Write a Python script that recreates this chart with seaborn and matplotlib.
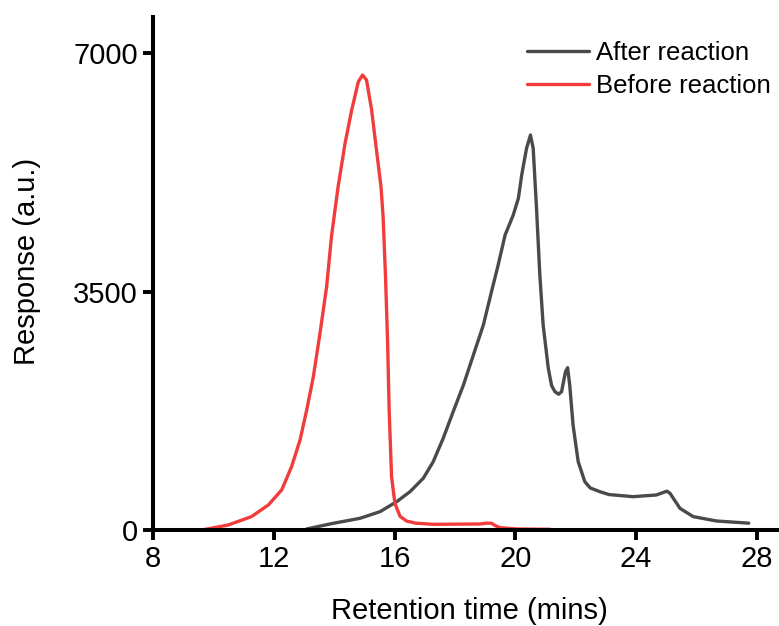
import numpy as np
import pandas as pd
import matplotlib
matplotlib.use("Agg")
import matplotlib.pyplot as plt
import seaborn as sns

# Chromatogram traces (retention time in minutes, detector response in a.u.)
before_time = [9.62, 10.49, 11.26, 11.82, 12.26, 12.59, 12.87, 13.09, 13.31, 13.53,
               13.75, 13.91, 14.13, 14.36, 14.58, 14.80, 14.94, 15.07, 15.24, 15.40,
               15.55, 15.62, 15.70, 15.77, 15.82, 15.90, 16.01, 16.18, 16.40, 16.70,
               17.28, 18.83, 19.05, 19.21, 19.35, 19.49, 20.04, 21.15]
before_resp = [0, 73, 196, 367, 587, 930, 1322, 1762, 2251, 2888,
               3573, 4307, 5041, 5678, 6167, 6583, 6681, 6608, 6167, 5580,
               5041, 4601, 3720, 2741, 1762, 783, 392, 200, 130, 100,
               83, 88, 100, 98, 60, 34, 15, 10]

after_time = [13.09, 13.97, 14.85, 15.52, 16.07, 16.51, 16.95, 17.28, 17.61, 17.94,
              18.28, 18.61, 18.94, 19.21, 19.43, 19.66, 19.93, 20.10, 20.21, 20.37,
              20.50, 20.59, 20.70, 20.81, 20.92, 21.09, 21.20, 21.31, 21.43, 21.53,
              21.66, 21.73, 21.80, 21.91, 22.08, 22.30, 22.48, 22.80, 23.10, 23.90,
              24.67, 25.02, 25.12, 25.45, 25.89, 26.66, 27.73]
after_resp = [15, 98, 171, 269, 416, 562, 759, 1003, 1346, 1737,
              2129, 2570, 3010, 3500, 3891, 4332, 4626, 4871, 5213, 5605,
              5800, 5605, 4724, 3744, 3010, 2374, 2120, 2031, 1993, 2031,
              2325, 2383, 2129, 1542, 1003, 709, 617, 562, 520, 489,
              514, 570, 539, 318, 196, 132, 100]

series_names = ["After reaction", "Before reaction"]
series_colors = ["#4a4a4a", "#f23c3c"]
x_ticks = [8, 12, 16, 20, 24, 28]
y_ticks = [0, 3500, 7000]

df = pd.concat([
    pd.DataFrame({"time": after_time, "resp": after_resp, "sample": series_names[0]}),
    pd.DataFrame({"time": before_time, "resp": before_resp, "sample": series_names[1]}),
], ignore_index=True)

sns.set_style("ticks")
plt.rcParams["font.family"] = ["Liberation Sans", "DejaVu Sans"]
plt.rcParams["text.color"] = "black"
plt.rcParams["axes.labelcolor"] = "black"

fig = plt.figure(figsize=(7.79, 6.26), dpi=100)
ax = fig.add_axes([0.1964, 0.1534, 0.8036, 0.8199])

sns.lineplot(data=df, x="time", y="resp", hue="sample", hue_order=series_names,
             palette=dict(zip(series_names, series_colors)), estimator=None,
             sort=False, linewidth=2.4, ax=ax)
for line in ax.get_lines():
    line.set_solid_joinstyle("round")
    line.set_solid_capstyle("round")

ax.set_xlim(8, 28.73)
ax.set_ylim(0, 7537)
ax.set_xticks(x_ticks)
ax.set_yticks(y_ticks)
ax.tick_params(axis="both", labelsize=21, length=7, width=2.8, direction="out",
               color="black", labelcolor="black", pad=4)

for side in ("left", "bottom"):
    ax.spines[side].set_linewidth(2.9)
    ax.spines[side].set_color("black")
for side in ("top", "right"):
    ax.spines[side].set_visible(False)

ax.set_xlabel("Retention time (mins)", fontsize=21, color="black")
ax.set_ylabel("Response (a.u.)", fontsize=21, color="black")
ax.xaxis.set_label_coords(0.505, -0.13)
ax.yaxis.set_label_coords(-0.179, 0.524)

leg = ax.legend(loc="upper left", bbox_to_anchor=(527 / 779, 1 - 41 / 626),
                bbox_transform=fig.transFigure, frameon=False,
                fontsize=18.5, handlelength=2.4, handletextpad=0.28, labelspacing=0.36,
                borderpad=0, borderaxespad=0)
for text in leg.get_texts():
    text.set_color("black")
for line in leg.get_lines():
    line.set_linewidth(2.4)

fig.savefig("out.png", dpi=100)
